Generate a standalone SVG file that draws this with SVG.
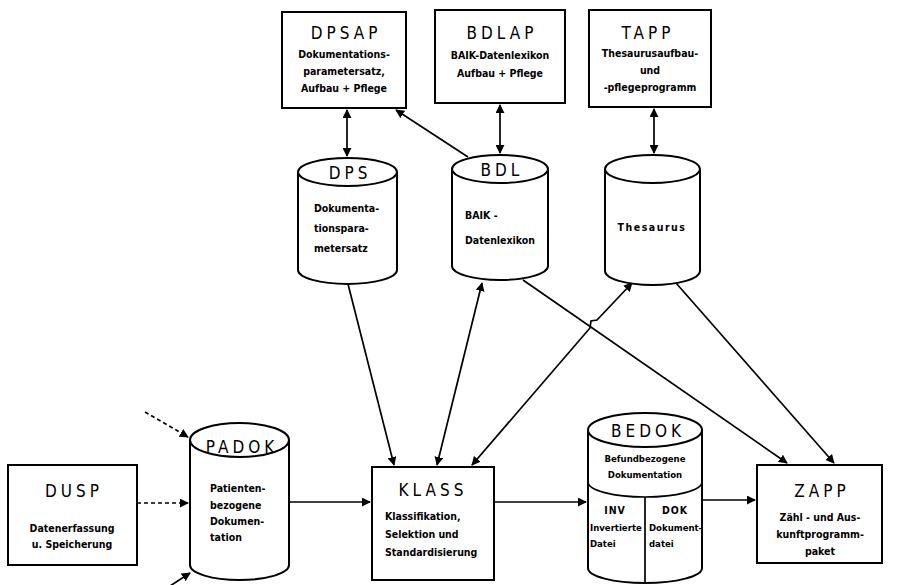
<svg xmlns="http://www.w3.org/2000/svg" width="920" height="585" viewBox="0 0 920 585">
<defs>
<marker id="ah" viewBox="0 0 10 10" refX="9" refY="5" markerWidth="9" markerHeight="9" markerUnits="userSpaceOnUse" orient="auto-start-reverse">
<path d="M0,0 L10,5 L0,10 Z" fill="#000"/>
</marker>
</defs>
<style>
.box{fill:#fff;stroke:#000;stroke-width:2}
.cyl{fill:#fff;stroke:#000;stroke-width:2}
.ln{fill:none;stroke:#000;stroke-width:1.7}
.dash{stroke-dasharray:4 3}
.t{font-family:"DejaVu Sans Condensed","DejaVu Sans",sans-serif;font-size:17px;letter-spacing:4px;fill:#000;text-anchor:middle}
.s{font-family:"DejaVu Sans Condensed","DejaVu Sans",sans-serif;font-size:10.5px;font-weight:bold;fill:#000}
.c{text-anchor:middle}
.sm{font-size:9.5px}
</style>

<g id="connectors">
<line class="ln" x1="347" y1="110" x2="347" y2="156" marker-start="url(#ah)" marker-end="url(#ah)"/>
<line class="ln" x1="468" y1="157" x2="396" y2="110" marker-end="url(#ah)"/>
<line class="ln" x1="500" y1="105" x2="500" y2="153" marker-start="url(#ah)" marker-end="url(#ah)"/>
<line class="ln" x1="654" y1="109" x2="654" y2="153" marker-start="url(#ah)" marker-end="url(#ah)"/>
<line class="ln" x1="348" y1="284" x2="394" y2="465" marker-end="url(#ah)"/>
<line class="ln" x1="482" y1="283" x2="437" y2="465" marker-start="url(#ah)" marker-end="url(#ah)"/>
<polyline class="ln" points="632,283 597,320 591,321 590,328 472,465" marker-start="url(#ah)" marker-end="url(#ah)"/>
<line class="ln" x1="523" y1="280" x2="787" y2="463" marker-end="url(#ah)"/>
<line class="ln" x1="676" y1="283" x2="834" y2="463" marker-end="url(#ah)"/>
<line class="ln dash" x1="137" y1="503" x2="188" y2="503" marker-end="url(#ah)"/>
<line class="ln dash" x1="145" y1="412" x2="188" y2="437" marker-end="url(#ah)"/>
<line class="ln" x1="170" y1="586" x2="190" y2="573" marker-end="url(#ah)"/>
<line class="ln" x1="289" y1="502" x2="370" y2="502" marker-end="url(#ah)"/>
<line class="ln" x1="494" y1="502" x2="586" y2="502" marker-end="url(#ah)"/>
<line class="ln" x1="702" y1="500" x2="755" y2="500" marker-end="url(#ah)"/>
</g>

<g id="DPSAP">
<rect class="box" x="282" y="12" width="124" height="96"/>
<text class="t" x="346" y="39">DPSAP</text>
<text class="s c" x="344" y="58">Dokumentations-</text>
<text class="s c" x="344" y="75">parametersatz,</text>
<text class="s c" x="344" y="92">Aufbau + Pflege</text>
</g>

<g id="BDLAP">
<rect class="box" x="435" y="10" width="130" height="93"/>
<text class="t" x="502" y="39">BDLAP</text>
<text class="s c" x="500" y="59">BAIK-Datenlexikon</text>
<text class="s c" x="500" y="77">Aufbau + Pflege</text>
</g>

<g id="TAPP">
<rect class="box" x="589" y="10" width="122" height="97"/>
<text class="t" x="648" y="39">TAPP</text>
<text class="s c" x="650" y="57">Thesaurusaufbau-</text>
<text class="s c" x="650" y="74">und</text>
<text class="s c" x="650" y="91">-pflegeprogramm</text>
</g>

<g id="DPS">
<path class="cyl" d="M298,172 L298,270 A49.5,14 0 0 0 397,270 L397,172"/>
<ellipse class="cyl" cx="347.5" cy="172" rx="49.5" ry="14"/>
<text class="t" x="350" y="179">DPS</text>
<text class="s" x="314" y="212">Dokumenta-</text>
<text class="s" x="314" y="232">tionspara-</text>
<text class="s" x="314" y="252">metersatz</text>
</g>

<g id="BDL">
<path class="cyl" d="M452,169 L452,266 A48,14 0 0 0 548,266 L548,169"/>
<ellipse class="cyl" cx="500" cy="169" rx="48" ry="14"/>
<text class="t" x="502" y="176">BDL</text>
<text class="s" x="465" y="219">BAIK -</text>
<text class="s" x="465" y="244">Datenlexikon</text>
</g>

<g id="Thesaurus">
<path class="cyl" d="M605,169 L605,271 A47.5,14 0 0 0 700,271 L700,169"/>
<ellipse class="cyl" cx="652.5" cy="169" rx="47.5" ry="14"/>
<text class="s c" x="652" y="231" style="letter-spacing:1.5px">Thesaurus</text>
</g>

<g id="DUSP">
<rect class="box" x="8" y="465" width="129" height="100"/>
<text class="t" x="74" y="497">DUSP</text>
<text class="s c" x="72" y="532">Datenerfassung</text>
<text class="s c" x="72" y="548">u. Speicherung</text>
</g>

<g id="PADOK">
<path class="cyl" d="M190,440 L190,565 A49.5,15 0 0 0 289,565 L289,440"/>
<ellipse class="cyl" cx="239.5" cy="440" rx="49.5" ry="17"/>
<text class="t" x="242" y="453">PADOK</text>
<text class="s" x="210" y="492">Patienten-</text>
<text class="s" x="210" y="509">bezogene</text>
<text class="s" x="210" y="525">Dokumen-</text>
<text class="s" x="210" y="541">tation</text>
</g>

<g id="KLASS">
<rect class="box" x="372" y="467" width="122" height="113"/>
<text class="t" x="433" y="496">KLASS</text>
<text class="s" x="385" y="520">Klassifikation,</text>
<text class="s" x="385" y="538">Selektion  und</text>
<text class="s" x="385" y="556">Standardisierung</text>
</g>

<g id="BEDOK">
<path class="cyl" d="M588,430 L588,568 A57,15 0 0 0 702,568 L702,430"/>
<ellipse class="cyl" cx="645" cy="430" rx="57" ry="17"/>
<path class="ln" d="M588,482 A57,15 0 0 0 702,482"/>
<line class="ln" x1="645" y1="497" x2="645" y2="583"/>
<text class="t" x="648" y="437">BEDOK</text>
<text class="s c sm" x="645" y="462">Befundbezogene</text>
<text class="s c sm" x="645" y="478">Dokumentation</text>
<text class="s c" x="615" y="514" style="letter-spacing:1px">INV</text>
<text class="s c" x="675" y="514" style="letter-spacing:1px">DOK</text>
<text class="s sm" x="590" y="531">Invertierte</text>
<text class="s sm" x="590" y="547">Datei</text>
<text class="s sm" x="649" y="531">Dokument-</text>
<text class="s sm" x="649" y="547">datei</text>
</g>

<g id="ZAPP">
<rect class="box" x="757" y="465" width="125" height="98"/>
<text class="t" x="822" y="497">ZAPP</text>
<text class="s c" x="820" y="521">Zähl - und Aus-</text>
<text class="s c" x="820" y="538">kunftprogramm-</text>
<text class="s c" x="820" y="555">paket</text>
</g>
</svg>
